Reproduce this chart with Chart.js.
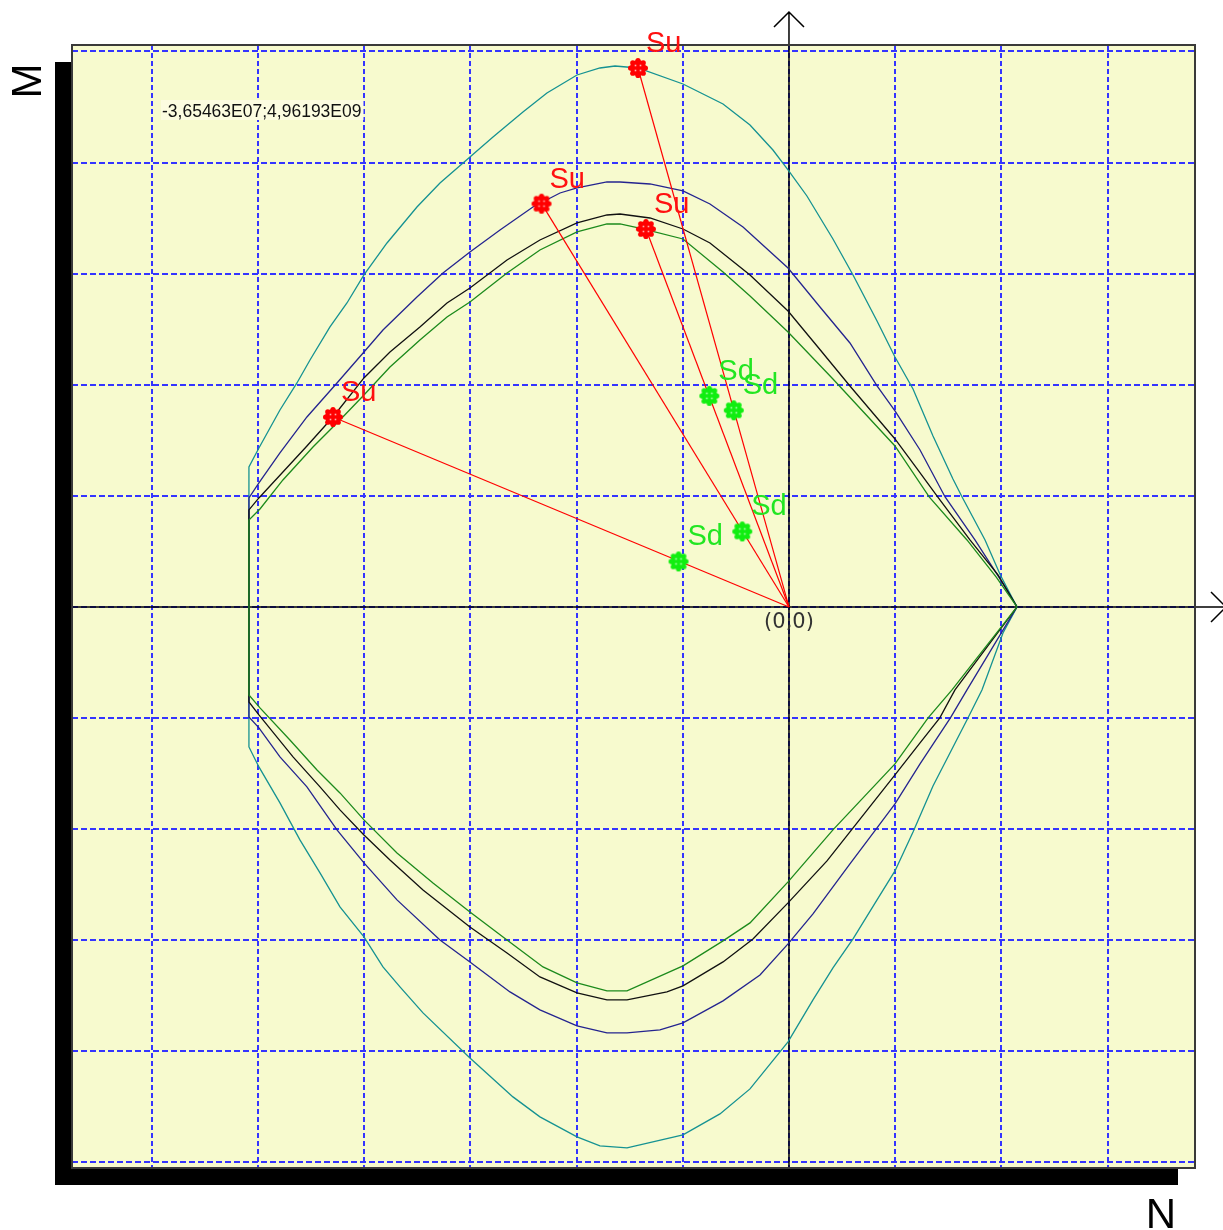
<!DOCTYPE html>
<html>
<head>
<meta charset="utf-8">
<title>N-M</title>
<script src="https://cdn.jsdelivr.net/npm/chart.js@4.4.0/dist/chart.umd.min.js"></script>
<style>
  html, body { margin: 0; padding: 0; background: #ffffff; overflow: hidden; }
  canvas { display: block; }
</style>
</head>
<body>
<canvas id="nm" width="1223" height="1230"></canvas>
<script>
// N–M interaction diagram: four resistance envelopes, ultimate (Su) and design (Sd) load points.
// Values are in grid steps on each axis: [N, M].

const gridN = [-6, -5, -4, -3, -2, -1, 0, 1, 2, 3];
const gridM = [-5, -4, -3, -2, -1, 0, 1, 2, 3, 4, 5];
const rangeN = [-6.751, 3.823];
const rangeM = [-5.050, 5.058];

const envelopeTeal = [
  [2.147, 0], [1.99, 0.288], [1.846, 0.603], [1.63, 0.99], [1.544, 1.152], [1.356, 1.539],
  [1.168, 1.962], [0.998, 2.250], [0.829, 2.574], [0.603, 2.988], [0.414, 3.312], [0.169, 3.699],
  [-0.009, 3.933], [-0.151, 4.113], [-0.367, 4.338], [-0.621, 4.527], [-0.998, 4.707], [-1.422, 4.851],
  [-1.638, 4.869], [-1.780, 4.851], [-1.996, 4.788], [-2.279, 4.626], [-2.505, 4.455], [-2.787, 4.230],
  [-3.004, 4.050], [-3.286, 3.816], [-3.503, 3.600], [-3.785, 3.276], [-4.002, 2.988], [-4.162, 2.736],
  [-4.322, 2.520], [-4.510, 2.223], [-4.633, 2.016], [-4.793, 1.773], [-4.991, 1.431], [-5.085, 1.260],
  [-5.085, -1.260], [-4.991, -1.440], [-4.793, -1.764], [-4.605, -2.097], [-4.416, -2.394], [-4.228, -2.700],
  [-4.002, -2.970], [-3.823, -3.240], [-3.663, -3.420], [-3.446, -3.654], [-3.004, -4.059], [-2.599, -4.410],
  [-2.345, -4.590], [-1.996, -4.770], [-1.780, -4.851], [-1.525, -4.869], [-0.998, -4.752], [-0.650, -4.563],
  [-0.367, -4.338], [-0.009, -3.915], [0.226, -3.537], [0.414, -3.249], [0.603, -2.988], [0.829, -2.637],
  [0.998, -2.376], [1.168, -2.025], [1.356, -1.611], [1.685, -0.999], [1.817, -0.747], [2.015, -0.234],
  [2.147, 0]
];

const envelopeBlue = [
  [2.147, 0], [1.987, 0.252], [1.751, 0.603], [1.47, 0.99], [1.234, 1.413], [0.998, 1.764],
  [0.829, 1.989], [0.574, 2.376], [0.292, 2.700], [-0.009, 3.051], [-0.433, 3.420], [-0.744, 3.627],
  [-0.998, 3.744], [-1.309, 3.807], [-1.591, 3.825], [-1.714, 3.825], [-1.996, 3.771], [-2.156, 3.726],
  [-2.411, 3.600], [-2.721, 3.393], [-3.004, 3.195], [-3.258, 3.006], [-3.503, 2.790], [-3.823, 2.493],
  [-4.002, 2.295], [-4.256, 2.016], [-4.539, 1.710], [-4.793, 1.386], [-4.991, 1.116], [-5.085, 0.981],
  [-5.085, -0.990], [-4.991, -1.089], [-4.793, -1.350], [-4.539, -1.620], [-4.256, -2.007], [-4.002, -2.304],
  [-3.691, -2.637], [-3.286, -2.997], [-3.004, -3.195], [-2.627, -3.465], [-2.345, -3.627], [-1.996, -3.771],
  [-1.714, -3.834], [-1.525, -3.834], [-1.215, -3.807], [-0.998, -3.744], [-0.621, -3.546], [-0.273, -3.312],
  [-0.009, -3.033], [0.226, -2.763], [0.574, -2.313], [0.829, -1.989], [0.998, -1.773], [1.234, -1.413],
  [1.52, -0.999], [1.676, -0.747], [2.147, 0]
];

const envelopeBlack = [
  [2.147, 0], [1.968, 0.288], [1.704, 0.603], [1.40, 0.99], [1.20, 1.251], [0.998, 1.512],
  [0.574, 1.989], [0.264, 2.349], [-0.009, 2.664], [-0.367, 2.988], [-0.744, 3.276], [-0.998, 3.402],
  [-1.309, 3.501], [-1.591, 3.537], [-1.714, 3.528], [-1.996, 3.456], [-2.345, 3.303], [-2.655, 3.123],
  [-3.004, 2.871], [-3.220, 2.736], [-3.475, 2.520], [-3.757, 2.295], [-4.002, 2.061], [-4.294, 1.710],
  [-4.539, 1.449], [-4.765, 1.215], [-4.991, 0.981], [-5.085, 0.873],
  [-5.085, -0.855], [-4.991, -0.972], [-4.670, -1.350], [-4.416, -1.620], [-4.228, -1.827], [-4.002, -2.052],
  [-3.757, -2.277], [-3.446, -2.547], [-3.004, -2.880], [-2.655, -3.114], [-2.345, -3.330], [-1.996, -3.474],
  [-1.714, -3.537], [-1.525, -3.537], [-1.149, -3.465], [-0.998, -3.411], [-0.621, -3.195], [-0.339, -2.988],
  [-0.009, -2.664], [0.358, -2.286], [0.574, -2.025], [0.998, -1.512], [1.234, -1.224], [1.42, -0.999],
  [1.563, -0.747], [2.147, 0]
];

const envelopeGreen = [
  [2.147, 0], [1.95, 0.27], [1.676, 0.603], [1.32, 0.99], [0.998, 1.449], [0.414, 2.052],
  [-0.009, 2.475], [-0.367, 2.799], [-0.621, 3.015], [-0.998, 3.312], [-1.375, 3.402], [-1.591, 3.447],
  [-1.714, 3.447], [-1.996, 3.375], [-2.345, 3.213], [-2.655, 3.006], [-3.004, 2.745], [-3.220, 2.610],
  [-3.475, 2.403], [-3.757, 2.160], [-4.002, 1.908], [-4.228, 1.683], [-4.482, 1.440], [-4.765, 1.143],
  [-4.981, 0.882], [-5.085, 0.783],
  [-5.085, -0.792], [-4.981, -0.909], [-4.699, -1.197], [-4.444, -1.467], [-4.228, -1.674], [-4.002, -1.917],
  [-3.691, -2.214], [-3.352, -2.484], [-3.004, -2.745], [-2.655, -2.997], [-2.316, -3.240], [-1.996, -3.384],
  [-1.714, -3.456], [-1.525, -3.456], [-0.998, -3.231], [-0.621, -3.006], [-0.367, -2.844], [-0.009, -2.475],
  [0.414, -2.007], [0.998, -1.413], [1.31, -0.999], [1.535, -0.747], [2.147, 0]
];

// Ultimate load points and the matching design load points on the same rays from the origin.
const suPoints = [[-1.422, 4.851], [-2.33, 3.63], [-1.347, 3.402], [-4.294, 1.710]];
const sdPoints = [[-0.52, 1.77], [-0.44, 0.68], [-0.75, 1.90], [-1.04, 0.41]];
const suLabels = ['Su', 'Su', 'Su', 'Su'];
const sdLabels = ['Sd', 'Sd', 'Sd', 'Sd'];
const readout = '-3,65463E07;4,96193E09';
const axisNameN = 'N';
const axisNameM = 'M';
const originText = '(0,0)';

const toXY = arr => arr.map(([n, m]) => ({ x: n, y: m }));

function makeMarker(fill, dot) {
  const c = document.createElement('canvas');
  c.width = 22; c.height = 22;
  const g = c.getContext('2d');
  g.fillStyle = fill;
  g.beginPath(); g.arc(11, 11, 8, 0, Math.PI * 2); g.fill();
  for (let k = 0; k < 8; k++) {
    const a = k * Math.PI / 4;
    g.beginPath();
    g.arc(11 + 7.4 * Math.cos(a), 11 + 7.4 * Math.sin(a), 2.6, 0, Math.PI * 2);
    g.fill();
  }
  g.fillStyle = dot;
  for (const [dx, dy] of [[-2.5, -2.5], [2.5, -2.5], [-2.5, 2.5], [2.5, 2.5]]) {
    g.fillRect(11 + dx - 0.8, 11 + dy - 0.8, 1.6, 1.6);
  }
  return c;
}

const suMarker = makeMarker('#ff0000', '#ffb0b0');
const sdMarker = makeMarker('#11ee11', '#b8ffb8');

const FONT = 'Arial, "Liberation Sans", sans-serif';

const curve = (data, color, order) => ({
  data: toXY(data), showLine: true, borderColor: color, borderWidth: 1.3,
  pointRadius: 0, fill: false, tension: 0, order
});

const rays = suPoints.map(p => ({
  data: [{ x: 0, y: 0 }, { x: p[0], y: p[1] }], showLine: true,
  borderColor: '#ff0000', borderWidth: 1.2, pointRadius: 0, fill: false, order: 2
}));

const framePlugin = {
  id: 'frame',
  beforeDraw(chart) {
    const { ctx, chartArea: a } = chart;
    ctx.save();
    // drop shadow down-left of the plot
    ctx.fillStyle = '#000000';
    ctx.fillRect(a.left - 17, a.top + 17, a.right - a.left, a.bottom - a.top);
    ctx.fillStyle = 'rgb(247,250,206)';
    ctx.fillRect(a.left, a.top, a.right - a.left, a.bottom - a.top);
    ctx.restore();
  },
  beforeDatasetsDraw(chart) {
    const { ctx, chartArea: a, scales } = chart;
    const x0 = scales.x.getPixelForValue(0);
    const y0 = scales.y.getPixelForValue(0);
    ctx.save();
    ctx.strokeStyle = '#000000';
    ctx.lineWidth = 1.5;
    ctx.beginPath();
    // M axis with open arrow head above the plot
    ctx.moveTo(x0, a.bottom); ctx.lineTo(x0, a.top - 33);
    ctx.moveTo(x0 - 15, a.top - 18); ctx.lineTo(x0, a.top - 33); ctx.lineTo(x0 + 15, a.top - 18);
    // N axis with open arrow head right of the plot
    ctx.moveTo(a.left, y0); ctx.lineTo(a.right + 32, y0);
    ctx.moveTo(a.right + 16, y0 - 15); ctx.lineTo(a.right + 31, y0); ctx.lineTo(a.right + 16, y0 + 15);
    ctx.stroke();
    ctx.restore();
  },
  afterDraw(chart) {
    const { ctx, chartArea: a, scales } = chart;
    const px = v => scales.x.getPixelForValue(v);
    const py = v => scales.y.getPixelForValue(v);
    ctx.save();
    // plot frame
    ctx.strokeStyle = '#3a3a3a';
    ctx.lineWidth = 2;
    ctx.strokeRect(a.left, a.top, a.right - a.left, a.bottom - a.top);

    // point labels
    ctx.textAlign = 'left';
    ctx.textBaseline = 'alphabetic';
    ctx.font = '29px ' + FONT;
    ctx.fillStyle = '#ff1010';
    suPoints.forEach((p, i) => ctx.fillText(suLabels[i], px(p[0]) + 8, py(p[1]) - 16));
    ctx.fillStyle = '#22e622';
    sdPoints.forEach((p, i) => ctx.fillText(sdLabels[i], px(p[0]) + 9, py(p[1]) - 16));

    // origin label
    ctx.font = '21px "DejaVu Sans", sans-serif';
    ctx.fillStyle = '#333333';
    ctx.textAlign = 'center';
    ctx.fillText(originText, px(0), py(0) + 21);

    // cursor readout
    ctx.font = '17.5px ' + FONT;
    const rx = a.left + 90, ry = a.top + 72;
    const w = ctx.measureText(readout).width;
    ctx.fillStyle = 'rgb(252,252,224)';
    ctx.fillRect(rx - 1, ry - 17, w + 3, 20);
    ctx.fillStyle = '#111111';
    ctx.textAlign = 'left';
    ctx.fillText(readout, rx, ry);

    // axis names
    ctx.fillStyle = '#000000';
    ctx.font = '42px ' + FONT;
    ctx.textAlign = 'center';
    ctx.fillText(axisNameN, a.right - 34, a.bottom + 60);
    ctx.translate(a.left - 43, a.top + 36);
    ctx.rotate(-Math.PI / 2);
    ctx.textBaseline = 'middle';
    ctx.fillText(axisNameM, 0, 0);
    ctx.restore();
  }
};

new Chart(document.getElementById('nm'), {
  type: 'scatter',
  data: {
    datasets: [
      { data: toXY(suPoints), pointStyle: suMarker, pointRadius: 10, showLine: false, order: 0 },
      { data: toXY(sdPoints), pointStyle: sdMarker, pointRadius: 10, showLine: false, order: 0 },
      ...rays,
      curve(envelopeGreen, '#1c8a1c', 3),
      curve(envelopeBlack, '#111111', 4),
      curve(envelopeBlue, '#24248f', 5),
      curve(envelopeTeal, '#159292', 6)
    ]
  },
  options: {
    responsive: false,
    animation: false,
    events: [],
    layout: { padding: { left: 72, top: 45, right: 28, bottom: 62 } },
    plugins: { legend: { display: false }, tooltip: { enabled: false } },
    scales: {
      x: {
        type: 'linear', min: rangeN[0], max: rangeN[1],
        afterBuildTicks: s => { s.ticks = gridN.map(v => ({ value: v })); },
        ticks: { display: false },
        grid: { color: '#3434ff', lineWidth: 2, drawTicks: false },
        border: { display: false, dash: [5, 3] }
      },
      y: {
        type: 'linear', min: rangeM[0], max: rangeM[1],
        afterBuildTicks: s => { s.ticks = gridM.map(v => ({ value: v })); },
        ticks: { display: false },
        grid: { color: '#3434ff', lineWidth: 2, drawTicks: false },
        border: { display: false, dash: [6, 3] }
      }
    }
  },
  plugins: [framePlugin]
});
</script>
</body>
</html>
